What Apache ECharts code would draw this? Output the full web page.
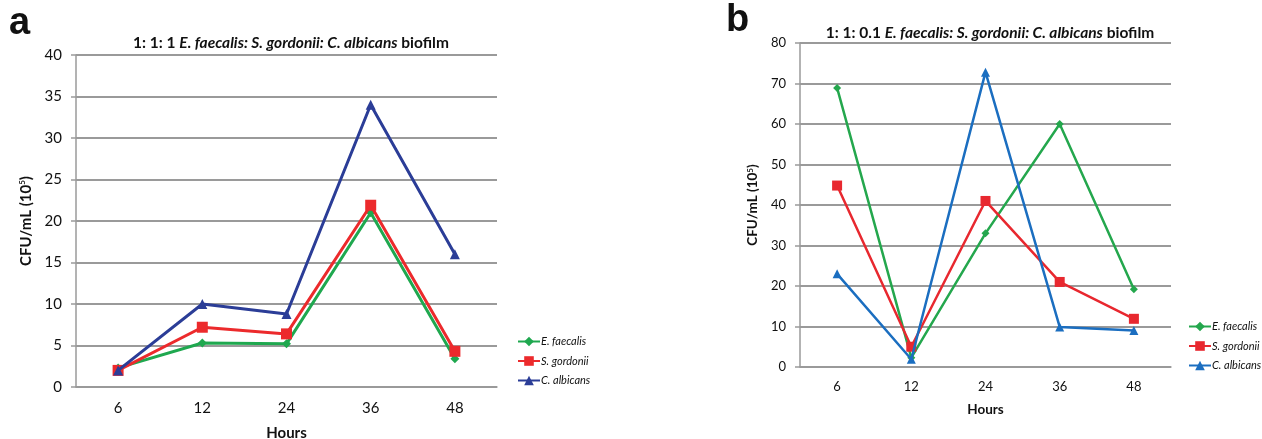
<!DOCTYPE html>
<html>
<head>
<meta charset="utf-8">
<script src="https://cdn.jsdelivr.net/npm/echarts@6/dist/echarts.min.js"></script>
<style>
html,body{margin:0;padding:0;background:#fff;width:1262px;height:439px;overflow:hidden;}
#ca{position:absolute;left:0;top:0;width:640px;height:439px;}
#cb{position:absolute;left:640px;top:0;width:622px;height:439px;}
</style>
</head>
<body>
<div id="ca"></div>
<div id="cb"></div>
<script>
const hours = ['6', '12', '24', '36', '48'];
const seriesNames = ['E. faecalis', 'S. gordonii', 'C. albicans'];
const yTicksA = [0, 5, 10, 15, 20, 25, 30, 35, 40];
const yTicksB = [0, 10, 20, 30, 40, 50, 60, 70, 80];

// Panel a: 1:1:1
const aFaecalis = [2.3, 5.3, 5.2, 21.0, 3.4];
const aGordonii = [2.0, 7.2, 6.4, 21.9, 4.3];
const aAlbicans = [2.0, 10.0, 8.8, 34.0, 16.0];

// Panel b: 1:1:0.1
const bFaecalis = [68.9, 2.3, 33.0, 60.0, 19.2];
const bGordonii = [44.8, 5.0, 41.0, 21.0, 11.9];
const bAlbicans = [23.0, 1.9, 72.8, 9.9, 9.0];

const FONT = 'Lato, "Open Sans", sans-serif';
const GRID_COLOR = '#9a9a9a';

function buildOption(cfg) {
  const names = seriesNames;
  const data = cfg.data;
  const symbols = ['diamond', 'rect', 'triangle'];
  return {
    animation: false,
    textStyle: {fontFamily: FONT},
    graphic: [{
      type: 'text', left: cfg.letterX, top: cfg.letterY,
      style: {text: cfg.letter, font: 'bold 38px "Liberation Sans", Arial, sans-serif', fill: '#111'}
    }],
    title: {
      text: '{n|' + cfg.ratio + ' }{i|E. faecalis: S. gordonii: C. albicans}{n| biofilm}',
      left: cfg.titleX, top: cfg.titleY, textAlign: 'center',
      textStyle: {
        rich: {
          n: {fontFamily: FONT, fontWeight: 'bold', fontSize: cfg.titleSize, color: '#111'},
          i: {fontFamily: FONT, fontWeight: 'bold', fontStyle: 'italic', fontSize: cfg.titleSize, color: '#111'}
        }
      }
    },
    legend: {
      orient: 'vertical', left: cfg.legendX, top: cfg.legendY,
      itemWidth: 22, itemHeight: 12, itemGap: cfg.legendGap,
      data: names,
      textStyle: {fontFamily: FONT, fontStyle: 'italic', fontSize: 11, color: '#111', padding: [0, 0, 0, -4]}
    },
    grid: {left: cfg.gridLeft, top: cfg.gridTop, width: cfg.gridW, height: cfg.gridH, outerBoundsMode: 'none'},
    xAxis: {
      type: 'category', data: hours, boundaryGap: true,
      name: 'Hours', nameLocation: 'middle', nameGap: cfg.xNameGap,
      nameTextStyle: {fontFamily: FONT, fontWeight: 'bold', fontSize: cfg.nameSize, color: '#111'},
      axisLine: {lineStyle: {color: GRID_COLOR, width: 1.5}},
      axisTick: {show: false},
      axisLabel: {fontFamily: FONT, fontSize: cfg.tickSize, color: '#111', margin: cfg.xLabelMargin}
    },
    yAxis: {
      type: 'value', min: cfg.yTicks[0], max: cfg.yTicks[cfg.yTicks.length - 1],
      interval: cfg.yTicks[1] - cfg.yTicks[0],
      name: 'CFU/mL (10{s|5})', nameLocation: 'middle', nameRotate: 90, nameGap: cfg.yNameGap,
      nameTextStyle: {fontFamily: FONT, fontWeight: 'bold', fontSize: cfg.nameSize, color: '#111',
        rich: {s: {fontFamily: FONT, fontWeight: 'bold', fontSize: 8, verticalAlign: 'top', padding: [0, 0, 6, 0], color: '#111'}}},
      axisLine: {show: true, lineStyle: {color: GRID_COLOR, width: 1.5}},
      axisTick: {show: true, length: 5, lineStyle: {color: GRID_COLOR, width: 1.5}},
      axisLabel: {fontFamily: FONT, fontSize: cfg.tickSize, color: '#111', margin: cfg.yLabelMargin},
      splitLine: {lineStyle: {color: GRID_COLOR, width: 2}}
    },
    series: names.map((n, i) => ({
      name: n, type: 'line', data: data[i],
      symbol: symbols[i], symbolSize: cfg.symSizes[i],
      lineStyle: {color: cfg.colors[i], width: cfg.lineWidth},
      itemStyle: {color: cfg.colors[i]},
      z: 2 + i
    }))
  };
}

const chartA = echarts.init(document.getElementById('ca'));
chartA.setOption(buildOption({
  letter: 'a', letterX: 9, letterY: 5, ratio: '1: 1: 1',
  titleX: 286, titleY: 30, titleSize: 15.5,
  legendX: 512, legendY: 331, legendGap: 8.5,
  gridLeft: 76, gridTop: 55, gridW: 421, gridH: 332,
  xNameGap: 39, yNameGap: 41, nameSize: 15, tickSize: 15,
  xLabelMargin: 14, yLabelMargin: 14,
  yTicks: yTicksA,
  data: [aFaecalis, aGordonii, aAlbicans],
  colors: ['#1fa84f', '#ec2a2c', '#2b3d97'],
  symSizes: [9, 11, 10], lineWidth: 3
}));

const chartB = echarts.init(document.getElementById('cb'));
chartB.setOption(buildOption({
  letter: 'b', letterX: 86, letterY: 2, ratio: '1: 1: 0.1',
  titleX: 345, titleY: 20, titleSize: 15.5,
  legendX: 543, legendY: 316, legendGap: 8.5,
  gridLeft: 160, gridTop: 43, gridW: 371, gridH: 324,
  xNameGap: 36, yNameGap: 31, nameSize: 13.5, tickSize: 13,
  xLabelMargin: 13, yLabelMargin: 14,
  yTicks: yTicksB,
  data: [bFaecalis, bGordonii, bAlbicans],
  colors: ['#24a74d', '#e8282f', '#1b6ec0'],
  symSizes: [8, 10, 9], lineWidth: 2.5
}));
</script>
</body>
</html>
